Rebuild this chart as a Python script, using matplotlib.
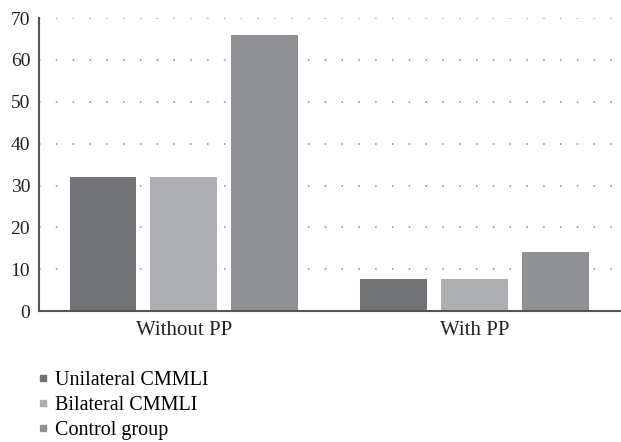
import numpy as np
import matplotlib.pyplot as plt
from matplotlib.lines import Line2D

plt.rcParams['font.family'] = ['Liberation Serif', 'DejaVu Serif']

groups = ["Without PP", "With PP"]
series = ["Unilateral CMMLI", "Bilateral CMMLI", "Control group"]
unilateral = [32, 7.7]
bilateral = [32, 7.7]
control = [66, 14.2]
colors = ["#737478", "#aeafb2", "#909194"]

fig = plt.figure(figsize=(6.21, 4.42), dpi=100)
ax = fig.add_axes([0.062, 0.296, 0.936, 0.663])

x = np.arange(len(groups))
offsets = [-0.278, 0, 0.278]
for vals, off, c in zip([unilateral, bilateral, control], offsets, colors):
    ax.bar(x + off, vals, width=0.23, color=c, zorder=3)

ax.set_xlim(-0.5, 1.5)
ax.set_ylim(0, 70)
ax.set_yticks(range(0, 71, 10))
ax.set_xticks(x)
ax.set_xticklabels(groups, fontsize=15, color="#222222")
ax.tick_params(axis='y', labelsize=14, colors="#222222", length=0, pad=6)
ax.tick_params(axis='x', length=0, pad=7)
ax.yaxis.grid(True, linestyle=(0, (1, 10)), color="#888888", linewidth=1.1)
ax.set_axisbelow(True)
for s in ["top", "right"]:
    ax.spines[s].set_visible(False)
for s in ["left", "bottom"]:
    ax.spines[s].set_color("#555555")
    ax.spines[s].set_linewidth(1.5)
    ax.spines[s].set_zorder(4)

handles = [Line2D([], [], marker='s', linestyle='none', markersize=5,
                  color=c) for c in colors]
fig.legend(handles, series, loc="upper left", bbox_to_anchor=(0.04, 0.178),
           frameon=False, fontsize=14.5, handletextpad=0.1, labelspacing=0.28,
           borderaxespad=0, handlelength=1.0)

fig.savefig("out.png", dpi=100)
